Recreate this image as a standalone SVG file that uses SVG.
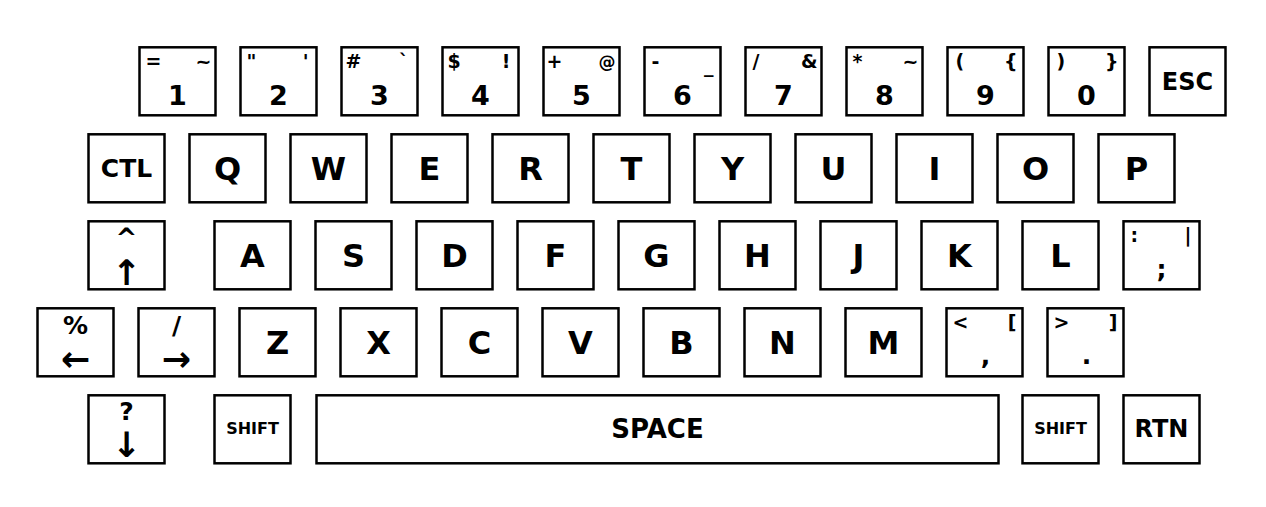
<svg xmlns="http://www.w3.org/2000/svg" width="1266" height="507" viewBox="0 0 1266 507">
<style>
.k rect{fill:#fff;stroke:#000;stroke-width:2.5}
text{font-family:"DejaVu Sans",sans-serif;font-weight:bold;fill:#000}
.L{font-size:32px;text-anchor:middle}
.D{font-size:27px;text-anchor:middle}
.W{font-size:24px;text-anchor:middle}
.sl{font-size:19px;text-anchor:start}
.sr{font-size:19px;text-anchor:end}
.sc{font-size:25px;text-anchor:middle}
.ar{font-size:35px;text-anchor:middle}
.sh{font-size:16px;text-anchor:middle}
</style>
<rect width="1266" height="507" fill="#fff"/>
<g transform="translate(0.5,0.3)">
<!-- Row 1 -->
<g id="key-1" class="k"><rect x="139" y="47" width="76" height="68"/><text class="sl" x="145" y="68">=</text><text class="sr" x="211" y="68" font-weight="normal">~</text><text class="D" x="177" y="105">1</text></g>
<g id="key-2" class="k"><rect x="240" y="47" width="76" height="68"/><text class="sl" x="246" y="68">"</text><text class="sr" x="308" y="68">'</text><text class="D" x="278" y="105">2</text></g>
<g id="key-3" class="k"><rect x="341" y="47" width="76" height="68"/><text class="sl" x="345" y="68">#</text><text class="sr" x="408" y="68">`</text><text class="D" x="379" y="105">3</text></g>
<g id="key-4" class="k"><rect x="442" y="47" width="76" height="68"/><text class="sl" x="447" y="68">$</text><text class="sr" x="510" y="68">!</text><text class="D" x="480" y="105">4</text></g>
<g id="key-5" class="k"><rect x="543" y="47" width="76" height="68"/><text class="sl" x="546" y="68">+</text><text class="sr" x="615" y="68" font-weight="normal" style="font-size:17px">@</text><text class="D" x="581" y="105">5</text></g>
<g id="key-6" class="k"><rect x="644" y="47" width="76" height="68"/><text class="sl" x="651" y="68">-</text><text class="sr" x="713" y="72" font-weight="normal">_</text><text class="D" x="682" y="105">6</text></g>
<g id="key-7" class="k"><rect x="745" y="47" width="76" height="68"/><text class="sl" x="752" y="68">/</text><text class="sr" x="817" y="68">&amp;</text><text class="D" x="783" y="105">7</text></g>
<g id="key-8" class="k"><rect x="846" y="47" width="76" height="68"/><text class="sl" x="852" y="68">*</text><text class="sr" x="918" y="68" font-weight="normal">~</text><text class="D" x="884" y="105">8</text></g>
<g id="key-9" class="k"><rect x="947" y="47" width="76" height="68"/><text class="sl" x="955" y="68">(</text><text class="sr" x="1017" y="68">{</text><text class="D" x="985" y="105">9</text></g>
<g id="key-0" class="k"><rect x="1048" y="47" width="76" height="68"/><text class="sl" x="1056" y="68">)</text><text class="sr" x="1118" y="68">}</text><text class="D" x="1086" y="105">0</text></g>
<g id="key-esc" class="k"><rect x="1149" y="47" width="76" height="68"/><text class="W" x="1187" y="90">ESC</text></g>
<!-- Row 2 -->
<g id="key-ctl" class="k"><rect x="88" y="134" width="76" height="68"/><text class="W" x="126" y="177" style="font-size:25px">CTL</text></g>
<g id="key-q" class="k"><rect x="189" y="134" width="76" height="68"/><text class="L" x="227" y="180">Q</text></g>
<g id="key-w" class="k"><rect x="290" y="134" width="76" height="68"/><text class="L" x="328" y="180">W</text></g>
<g id="key-e" class="k"><rect x="391" y="134" width="76" height="68"/><text class="L" x="429" y="180">E</text></g>
<g id="key-r" class="k"><rect x="492" y="134" width="76" height="68"/><text class="L" x="530" y="180">R</text></g>
<g id="key-t" class="k"><rect x="593" y="134" width="76" height="68"/><text class="L" x="631" y="180">T</text></g>
<g id="key-y" class="k"><rect x="694" y="134" width="76" height="68"/><text class="L" x="732" y="180">Y</text></g>
<g id="key-u" class="k"><rect x="795" y="134" width="76" height="68"/><text class="L" x="833" y="180">U</text></g>
<g id="key-i" class="k"><rect x="896" y="134" width="76" height="68"/><text class="L" x="934" y="180">I</text></g>
<g id="key-o" class="k"><rect x="997" y="134" width="76" height="68"/><text class="L" x="1035" y="180">O</text></g>
<g id="key-p" class="k"><rect x="1098" y="134" width="76" height="68"/><text class="L" x="1136" y="180">P</text></g>
<!-- Row 3 -->
<g id="key-up" class="k"><rect x="88" y="221" width="76" height="68"/><text class="sc" x="126" y="247" style="font-size:26px">^</text><text class="ar" x="126" y="285">↑</text></g>
<g id="key-a" class="k"><rect x="214" y="221" width="76" height="68"/><text class="L" x="252" y="267">A</text></g>
<g id="key-s" class="k"><rect x="315" y="221" width="76" height="68"/><text class="L" x="353" y="267">S</text></g>
<g id="key-d" class="k"><rect x="416" y="221" width="76" height="68"/><text class="L" x="454" y="267">D</text></g>
<g id="key-f" class="k"><rect x="517" y="221" width="76" height="68"/><text class="L" x="555" y="267">F</text></g>
<g id="key-g" class="k"><rect x="618" y="221" width="76" height="68"/><text class="L" x="656" y="267">G</text></g>
<g id="key-h" class="k"><rect x="719" y="221" width="76" height="68"/><text class="L" x="757" y="267">H</text></g>
<g id="key-j" class="k"><rect x="820" y="221" width="76" height="68"/><text class="L" x="858" y="267">J</text></g>
<g id="key-k" class="k"><rect x="921" y="221" width="76" height="68"/><text class="L" x="959" y="267">K</text></g>
<g id="key-l" class="k"><rect x="1022" y="221" width="76" height="68"/><text class="L" x="1060" y="267">L</text></g>
<g id="key-semicolon" class="k"><rect x="1123" y="221" width="76" height="68"/><text class="sl" x="1130" y="242">:</text><text class="sr" x="1191" y="242" font-weight="normal">|</text><text class="sc" x="1161" y="278">;</text></g>
<!-- Row 4 -->
<g id="key-left" class="k"><rect x="37" y="308" width="76" height="68"/><text class="sc" x="75" y="334">%</text><text class="ar" x="75" y="371">←</text></g>
<g id="key-right" class="k"><rect x="138" y="308" width="76" height="68"/><text class="sc" x="176" y="334">/</text><text class="ar" x="176" y="371">→</text></g>
<g id="key-z" class="k"><rect x="239" y="308" width="76" height="68"/><text class="L" x="277" y="354">Z</text></g>
<g id="key-x" class="k"><rect x="340" y="308" width="76" height="68"/><text class="L" x="378" y="354">X</text></g>
<g id="key-c" class="k"><rect x="441" y="308" width="76" height="68"/><text class="L" x="479" y="354">C</text></g>
<g id="key-v" class="k"><rect x="542" y="308" width="76" height="68"/><text class="L" x="580" y="354">V</text></g>
<g id="key-b" class="k"><rect x="643" y="308" width="76" height="68"/><text class="L" x="681" y="354">B</text></g>
<g id="key-n" class="k"><rect x="744" y="308" width="76" height="68"/><text class="L" x="782" y="354">N</text></g>
<g id="key-m" class="k"><rect x="845" y="308" width="76" height="68"/><text class="L" x="883" y="354">M</text></g>
<g id="key-comma" class="k"><rect x="946" y="308" width="76" height="68"/><text class="sl" x="952" y="329">&lt;</text><text class="sr" x="1016" y="329">[</text><text class="sc" x="985" y="364">,</text></g>
<g id="key-period" class="k"><rect x="1047" y="308" width="76" height="68"/><text class="sl" x="1053" y="329">&gt;</text><text class="sr" x="1117" y="329">]</text><text class="sc" x="1086" y="364">.</text></g>
<!-- Row 5 -->
<g id="key-down" class="k"><rect x="88" y="395" width="76" height="68"/><text class="sc" x="126" y="420">?</text><text class="ar" x="126" y="457">↓</text></g>
<g id="key-shift-l" class="k"><rect x="214" y="395" width="76" height="68"/><text class="sh" x="252" y="434">SHIFT</text></g>
<g id="key-space" class="k"><rect x="316" y="395" width="682" height="68"/><text class="W" x="657" y="438" style="font-size:26px">SPACE</text></g>
<g id="key-shift-r" class="k"><rect x="1022" y="395" width="76" height="68"/><text class="sh" x="1060" y="434">SHIFT</text></g>
<g id="key-rtn" class="k"><rect x="1123" y="395" width="76" height="68"/><text class="W" x="1161" y="437">RTN</text></g>
</g>
<g id="connectors"/>
</svg>
